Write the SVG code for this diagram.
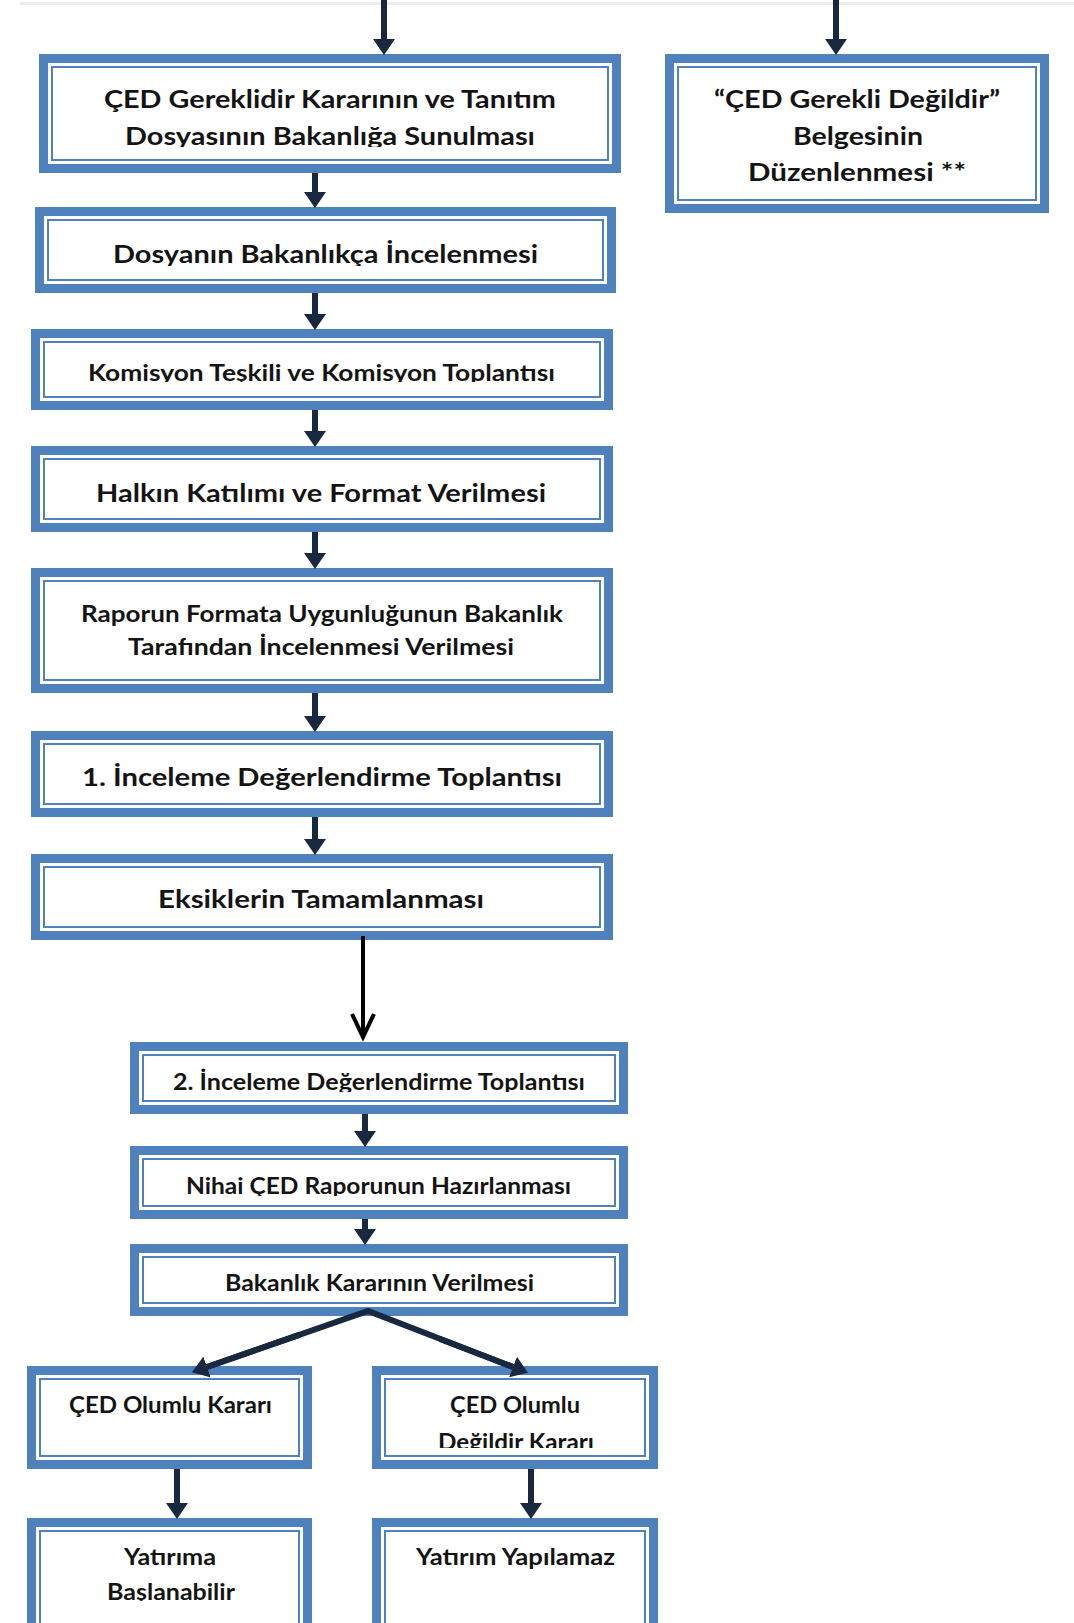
<svg xmlns="http://www.w3.org/2000/svg" width="1074" height="1623" viewBox="0 0 1074 1623">
<style>
.o{fill:#4F81BD}
.w{fill:#ffffff}
.l{fill:none;stroke:#4F81BD;stroke-width:2}
text{font-family:Lato,"Open Sans","Liberation Sans",sans-serif;font-weight:bold;fill:#141414;text-anchor:start}
.a{stroke:#17283F;stroke-width:6;fill:none}
</style>
<defs>
<marker id="ah" markerUnits="userSpaceOnUse" markerWidth="16" markerHeight="22" refX="0" refY="11" orient="auto">
<path d="M0,0 L16,11 L0,22 z" fill="#17283F"/>
</marker>
<clipPath id="c1"><rect x="0" y="0" width="1074" height="147"/></clipPath>
<clipPath id="c2"><rect x="0" y="0" width="1074" height="266"/></clipPath>
<clipPath id="c3"><rect x="0" y="0" width="1074" height="382"/></clipPath>
<clipPath id="c4"><rect x="0" y="0" width="1074" height="1092"/></clipPath>
<clipPath id="c5"><rect x="0" y="0" width="1074" height="1196"/></clipPath>
<clipPath id="c6"><rect x="0" y="0" width="1074" height="1448"/></clipPath>
<clipPath id="c7"><rect x="0" y="0" width="1074" height="1601"/></clipPath>
</defs>
<rect x="20" y="2" width="1054" height="3" fill="#ececec"/>

<g id="n1">
<rect class="o" x="39" y="54" width="582" height="119"/>
<rect class="w" x="48" y="63" width="564" height="101"/>
<rect class="l" x="52" y="67" width="556" height="93"/>
<text x="104" y="108" font-size="25" textLength="452" lengthAdjust="spacingAndGlyphs">ÇED Gereklidir Kararının ve Tanıtım</text>
<text x="125" y="145" font-size="25" textLength="410" lengthAdjust="spacingAndGlyphs" clip-path="url(#c1)">Dosyasının Bakanlığa Sunulması</text>
</g>

<g id="n2">
<rect class="o" x="665" y="54" width="384" height="159"/>
<rect class="w" x="674" y="63" width="366" height="141"/>
<rect class="l" x="678" y="67" width="358" height="133"/>
<text x="714" y="108" font-size="25" textLength="286" lengthAdjust="spacingAndGlyphs">“ÇED Gerekli Değildir”</text>
<text x="793" y="145" font-size="25" textLength="130" lengthAdjust="spacingAndGlyphs">Belgesinin</text>
<text x="748" y="181" font-size="25" textLength="218" lengthAdjust="spacingAndGlyphs">Düzenlenmesi **</text>
</g>

<g id="n3">
<rect class="o" x="35" y="207" width="581" height="86"/>
<rect class="w" x="44" y="216" width="563" height="68"/>
<rect class="l" x="48" y="220" width="555" height="60"/>
<text x="113" y="263" font-size="25" textLength="425" lengthAdjust="spacingAndGlyphs" clip-path="url(#c2)">Dosyanın Bakanlıkça İncelenmesi</text>
</g>

<g id="n4">
<rect class="o" x="31" y="329" width="582" height="81"/>
<rect class="w" x="40" y="338" width="564" height="63"/>
<rect class="l" x="44" y="342" width="556" height="55"/>
<text x="88" y="381" font-size="22" textLength="467" lengthAdjust="spacingAndGlyphs" clip-path="url(#c3)">Komisyon Teşkili ve Komisyon Toplantısı</text>
</g>

<g id="n5">
<rect class="o" x="31" y="446" width="582" height="86"/>
<rect class="w" x="40" y="455" width="564" height="68"/>
<rect class="l" x="44" y="459" width="556" height="60"/>
<text x="96" y="502" font-size="25" textLength="450" lengthAdjust="spacingAndGlyphs">Halkın Katılımı ve Format Verilmesi</text>
</g>

<g id="n6">
<rect class="o" x="31" y="568" width="582" height="125"/>
<rect class="w" x="40" y="577" width="564" height="107"/>
<rect class="l" x="44" y="581" width="556" height="99"/>
<text x="81" y="622" font-size="22" textLength="482" lengthAdjust="spacingAndGlyphs">Raporun Formata Uygunluğunun Bakanlık</text>
<text x="128" y="655" font-size="22" textLength="386" lengthAdjust="spacingAndGlyphs">Tarafından İncelenmesi Verilmesi</text>
</g>

<g id="n7">
<rect class="o" x="31" y="731" width="582" height="86"/>
<rect class="w" x="40" y="740" width="564" height="68"/>
<rect class="l" x="44" y="744" width="556" height="60"/>
<text x="82" y="786" font-size="25" textLength="480" lengthAdjust="spacingAndGlyphs">1. İnceleme Değerlendirme Toplantısı</text>
</g>

<g id="n8">
<rect class="o" x="31" y="854" width="582" height="86"/>
<rect class="w" x="40" y="863" width="564" height="68"/>
<rect class="l" x="44" y="867" width="556" height="60"/>
<text x="158" y="908" font-size="25" textLength="326" lengthAdjust="spacingAndGlyphs">Eksiklerin Tamamlanması</text>
</g>

<g id="n9">
<rect class="o" x="130" y="1042" width="498" height="72"/>
<rect class="w" x="139" y="1051" width="480" height="54"/>
<rect class="l" x="143" y="1055" width="472" height="46"/>
<text x="173" y="1090" font-size="22" textLength="412" lengthAdjust="spacingAndGlyphs" clip-path="url(#c4)">2. İnceleme Değerlendirme Toplantısı</text>
</g>

<g id="n10">
<rect class="o" x="130" y="1146" width="498" height="73"/>
<rect class="w" x="139" y="1155" width="480" height="55"/>
<rect class="l" x="143" y="1159" width="472" height="47"/>
<text x="186" y="1194" font-size="22" textLength="385" lengthAdjust="spacingAndGlyphs" clip-path="url(#c5)">Nihai ÇED Raporunun Hazırlanması</text>
</g>

<g id="n11">
<rect class="o" x="130" y="1244" width="498" height="72"/>
<rect class="w" x="139" y="1253" width="480" height="54"/>
<rect class="l" x="143" y="1257" width="472" height="46"/>
<text x="225" y="1291" font-size="22" textLength="309" lengthAdjust="spacingAndGlyphs">Bakanlık Kararının Verilmesi</text>
</g>

<g id="n12">
<rect class="o" x="27" y="1366" width="285" height="103"/>
<rect class="w" x="36" y="1375" width="267" height="85"/>
<rect class="l" x="40" y="1379" width="259" height="77"/>
<text x="69" y="1413" font-size="22" textLength="203" lengthAdjust="spacingAndGlyphs">ÇED Olumlu Kararı</text>
</g>

<g id="n13">
<rect class="o" x="372" y="1366" width="286" height="103"/>
<rect class="w" x="381" y="1375" width="268" height="85"/>
<rect class="l" x="385" y="1379" width="260" height="77"/>
<text x="450" y="1413" font-size="22" textLength="130" lengthAdjust="spacingAndGlyphs">ÇED Olumlu</text>
<text x="438" y="1450" font-size="22" textLength="156" lengthAdjust="spacingAndGlyphs" clip-path="url(#c6)">Değildir Kararı</text>
</g>

<g id="n14">
<rect class="o" x="27" y="1518" width="285" height="130"/>
<rect class="w" x="36" y="1527" width="267" height="112"/>
<rect class="l" x="40" y="1531" width="259" height="104"/>
<text x="124" y="1565" font-size="22" textLength="92" lengthAdjust="spacingAndGlyphs">Yatırıma</text>
<text x="107" y="1600" font-size="22" textLength="128" lengthAdjust="spacingAndGlyphs" clip-path="url(#c7)">Başlanabilir</text>
</g>

<g id="n15">
<rect class="o" x="372" y="1518" width="286" height="130"/>
<rect class="w" x="381" y="1527" width="268" height="112"/>
<rect class="l" x="385" y="1531" width="260" height="104"/>
<text x="416" y="1565" font-size="22" textLength="199" lengthAdjust="spacingAndGlyphs">Yatırım Yapılamaz</text>
</g>

<g id="connectors">
<line class="a" x1="384" y1="0" x2="384" y2="39" marker-end="url(#ah)"/>
<line class="a" x1="836" y1="0" x2="836" y2="39" marker-end="url(#ah)"/>
<line class="a" x1="315" y1="173" x2="315" y2="192" marker-end="url(#ah)"/>
<line class="a" x1="315" y1="293" x2="315" y2="314" marker-end="url(#ah)"/>
<line class="a" x1="315" y1="410" x2="315" y2="431" marker-end="url(#ah)"/>
<line class="a" x1="315" y1="532" x2="315" y2="553" marker-end="url(#ah)"/>
<line class="a" x1="315" y1="693" x2="315" y2="716" marker-end="url(#ah)"/>
<line class="a" x1="315" y1="817" x2="315" y2="839" marker-end="url(#ah)"/>
<line x1="363" y1="936" x2="363" y2="1038" stroke="#000" stroke-width="4"/>
<polyline points="352,1014 363,1037 374,1014" fill="none" stroke="#000" stroke-width="4"/>
<line class="a" x1="365" y1="1114" x2="365" y2="1131" marker-end="url(#ah)"/>
<line class="a" x1="365" y1="1219" x2="365" y2="1229" marker-end="url(#ah)"/>
<polyline class="a" points="207,1367 368,1311 513,1367" stroke-linejoin="miter"/>
<line class="a" x1="300" y1="1334.6" x2="207" y2="1367" marker-end="url(#ah)"/>
<line class="a" x1="440" y1="1339" x2="513" y2="1367" marker-end="url(#ah)"/>
<line class="a" x1="177" y1="1469" x2="177" y2="1503" marker-end="url(#ah)"/>
<line class="a" x1="531" y1="1469" x2="531" y2="1503" marker-end="url(#ah)"/>
</g>
</svg>
